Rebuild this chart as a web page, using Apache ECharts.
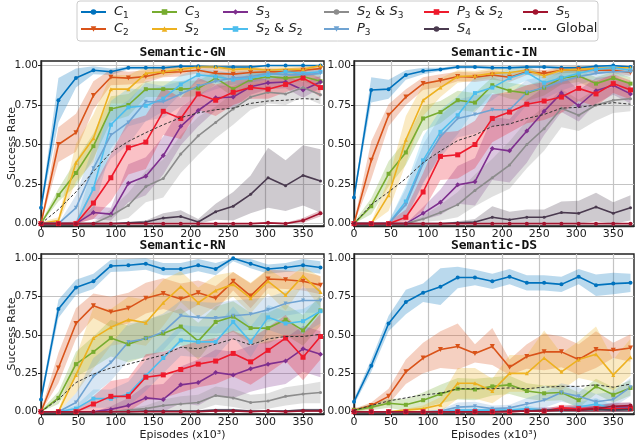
<!DOCTYPE html>
<html>
<head>
<meta charset="utf-8">
<script src="https://cdn.jsdelivr.net/npm/echarts@6/dist/echarts.min.js"></script>
<style>
  html, body { margin: 0; padding: 0; background: #fff; }
  #chart { width: 635px; height: 442px; }
</style>
</head>
<body>
<div id="chart"></div>
<script>
// episodes (x10^3) at which every run was evaluated
const episodes = [0, 23.3, 46.7, 70, 93.3, 116.7, 140, 163.3, 186.7, 210, 233.3, 256.7, 280, 303.3, 326.7, 350, 373.3]
const xTicks = [0, 50, 100, 150, 200, 250, 300, 350]
const yTicks = [0, 0.25, 0.5, 0.75, 1]

const names = ['C1', 'C2', 'C3', 'S2', 'S3', 'S2 & S2', 'S2 & S3', 'P3', 'P3 & S2', 'S4', 'S5']
const colors = ['#0072BD', '#D95319', '#77AC30', '#EDB120', '#7E2F8E', '#4DBEEE', '#8C8C8C', '#6FA3D2', '#EE1A2C', '#4A3A4F', '#A2142F']
const symbols = ['circle', 'triangle', 'rect', 'triangle', 'diamond', 'rect', 'circle', 'triangle', 'rect', 'circle', 'circle']
const symbolRotates = [0, 180, 0, 0, 0, 0, 0, 180, 0, 0, 0]
const symbolSizes = [4, 5, 4, 4, 5, 4, 3, 4, 5, 3, 4]

// ---- Semantic-GN
const GN_C1 = [0.10, 0.78, 0.92, 0.97, 0.96, 0.985, 0.985, 0.985, 0.995, 0.995, 0.99, 0.99, 0.99, 1.0, 1.0, 1.0, 1.0]
const GN_C2 = [0, 0.50, 0.575, 0.81, 0.925, 0.92, 0.93, 0.955, 0.96, 0.97, 0.95, 0.945, 0.955, 0.96, 0.96, 0.97, 0.98]
const GN_C3 = [0, 0.18, 0.32, 0.49, 0.725, 0.75, 0.85, 0.85, 0.85, 0.855, 0.92, 0.85, 0.91, 0.93, 0.92, 0.93, 0.90]
const GN_S2 = [0, 0.02, 0.385, 0.54, 0.85, 0.85, 0.95, 0.96, 0.975, 0.99, 0.99, 0.975, 0.98, 0.97, 0.975, 0.975, 1.0]
const GN_S3 = [0, 0, 0, 0.07, 0.06, 0.255, 0.30, 0.43, 0.615, 0.715, 0.795, 0.80, 0.865, 0.89, 0.895, 0.845, 0.895]
const GN_S2S2 = [0, 0, 0, 0.22, 0.625, 0.735, 0.745, 0.79, 0.88, 0.94, 0.93, 0.91, 0.92, 0.94, 0.96, 0.95, 0.96]
const GN_S2S3 = [0, 0, 0, 0, 0.05, 0.115, 0.235, 0.285, 0.44, 0.555, 0.64, 0.725, 0.80, 0.83, 0.82, 0.86, 0.815]
const GN_P3 = [0, 0, 0.1, 0.35, 0.56, 0.64, 0.77, 0.77, 0.82, 0.87, 0.90, 0.92, 0.93, 0.95, 0.94, 0.94, 0.95]
const GN_P3S2 = [0, 0, 0, 0.13, 0.29, 0.48, 0.515, 0.71, 0.665, 0.82, 0.78, 0.83, 0.86, 0.85, 0.88, 0.92, 0.86]
const GN_S4 = [0, 0, 0, 0, 0, 0.005, 0.01, 0.035, 0.045, 0.01, 0.075, 0.11, 0.185, 0.29, 0.24, 0.305, 0.27]
const GN_S5 = [0, 0, 0, 0, 0, 0, 0, 0, 0, 0, 0, 0, 0, 0.005, 0, 0.02, 0.065]
const GN_GLOBAL = [0, 0.09, 0.2, 0.33, 0.45, 0.52, 0.575, 0.625, 0.67, 0.70, 0.72, 0.73, 0.76, 0.775, 0.78, 0.79, 0.785]

const GN_C1_SD = [0.02, 0.14, 0.06, 0.025, 0.02, 0.01, 0.01, 0.01, 0.01, 0.01, 0.01, 0.01, 0.01, 0.005, 0.005, 0.005, 0.005]
const GN_C2_SD = [0.01, 0.11, 0.12, 0.09, 0.05, 0.04, 0.04, 0.03, 0.03, 0.02, 0.03, 0.03, 0.03, 0.02, 0.02, 0.02, 0.02]
const GN_C3_SD = [0.01, 0.04, 0.08, 0.08, 0.08, 0.07, 0.05, 0.05, 0.05, 0.05, 0.04, 0.05, 0.04, 0.03, 0.03, 0.03, 0.04]
const GN_S2_SD = [0.01, 0.02, 0.12, 0.15, 0.09, 0.09, 0.04, 0.03, 0.02, 0.01, 0.01, 0.02, 0.02, 0.02, 0.02, 0.02, 0.01]
const GN_S3_SD = [0, 0, 0, 0.04, 0.04, 0.12, 0.12, 0.12, 0.12, 0.1, 0.08, 0.07, 0.05, 0.04, 0.04, 0.05, 0.04]
const GN_S2S2_SD = [0, 0, 0.01, 0.15, 0.15, 0.12, 0.1, 0.08, 0.06, 0.04, 0.04, 0.04, 0.03, 0.03, 0.02, 0.02, 0.02]
const GN_S2S3_SD = [0, 0, 0, 0.01, 0.04, 0.08, 0.1, 0.12, 0.12, 0.12, 0.1, 0.1, 0.08, 0.07, 0.07, 0.06, 0.06]
const GN_P3_SD = [0, 0, 0.08, 0.14, 0.15, 0.14, 0.12, 0.1, 0.08, 0.06, 0.05, 0.04, 0.04, 0.03, 0.03, 0.03, 0.03]
const GN_P3S2_SD = [0, 0, 0.02, 0.1, 0.15, 0.17, 0.17, 0.15, 0.13, 0.1, 0.1, 0.08, 0.07, 0.06, 0.05, 0.05, 0.06]
const GN_S4_SD = [0, 0, 0, 0, 0, 0.005, 0.01, 0.03, 0.04, 0.02, 0.05, 0.09, 0.12, 0.19, 0.16, 0.19, 0.2]
const GN_S5_SD = [0, 0, 0, 0, 0, 0, 0, 0, 0, 0, 0, 0, 0, 0.005, 0.005, 0.015, 0.02]

// ---- Semantic-IN
const IN_C1 = [0.165, 0.845, 0.85, 0.94, 0.965, 0.975, 0.99, 0.99, 0.985, 0.985, 0.99, 0.99, 0.985, 0.985, 0.995, 1.0, 0.99]
const IN_C2 = [0, 0.40, 0.685, 0.80, 0.885, 0.905, 0.93, 0.925, 0.94, 0.925, 0.96, 0.95, 0.97, 0.975, 0.97, 0.97, 0.955]
const IN_C3 = [0, 0.11, 0.315, 0.45, 0.665, 0.705, 0.78, 0.765, 0.875, 0.84, 0.825, 0.86, 0.92, 0.935, 0.885, 0.92, 0.885]
const IN_S2 = [0, 0, 0.18, 0.53, 0.78, 0.86, 0.93, 0.935, 0.95, 0.955, 0.97, 0.935, 0.97, 0.975, 0.98, 0.985, 0.985]
const IN_S3 = [0, 0, 0, 0, 0.065, 0.135, 0.245, 0.265, 0.475, 0.46, 0.585, 0.71, 0.825, 0.745, 0.84, 0.875, 0.82]
const IN_S2S2 = [0, 0, 0, 0.14, 0.40, 0.58, 0.685, 0.825, 0.86, 0.92, 0.955, 0.89, 0.92, 0.95, 0.975, 0.985, 0.97]
const IN_S2S3 = [0, 0, 0, 0, 0.03, 0.07, 0.12, 0.21, 0.29, 0.37, 0.50, 0.60, 0.73, 0.685, 0.75, 0.78, 0.79]
const IN_P3 = [0, 0, 0, 0.12, 0.38, 0.55, 0.665, 0.69, 0.72, 0.72, 0.83, 0.86, 0.90, 0.93, 0.95, 0.96, 0.96]
const IN_P3S2 = [0, 0, 0, 0.04, 0.2, 0.425, 0.435, 0.50, 0.665, 0.705, 0.755, 0.775, 0.80, 0.855, 0.82, 0.885, 0.845]
const IN_S4 = [0, 0, 0, 0, 0, 0, 0.005, 0.01, 0.04, 0.025, 0.04, 0.04, 0.07, 0.065, 0.105, 0.065, 0.1]
const IN_S5 = [0, 0, 0, 0, 0, 0, 0, 0, 0, 0, 0, 0, 0, 0, 0, 0, 0]
const IN_GLOBAL = [0, 0.12, 0.2, 0.285, 0.385, 0.46, 0.525, 0.56, 0.615, 0.63, 0.665, 0.69, 0.73, 0.735, 0.75, 0.765, 0.755]

const IN_C1_SD = [0.02, 0.08, 0.06, 0.03, 0.02, 0.01, 0.01, 0.01, 0.01, 0.01, 0.01, 0.01, 0.01, 0.01, 0.01, 0.005, 0.01]
const IN_C2_SD = [0.01, 0.12, 0.07, 0.05, 0.04, 0.04, 0.03, 0.03, 0.03, 0.03, 0.02, 0.02, 0.02, 0.02, 0.02, 0.02, 0.02]
const IN_C3_SD = [0.01, 0.05, 0.08, 0.08, 0.08, 0.07, 0.06, 0.06, 0.05, 0.05, 0.05, 0.05, 0.04, 0.04, 0.04, 0.04, 0.04]
const IN_S2_SD = [0, 0.01, 0.1, 0.15, 0.1, 0.06, 0.04, 0.03, 0.03, 0.02, 0.02, 0.02, 0.02, 0.02, 0.01, 0.01, 0.01]
const IN_S3_SD = [0, 0, 0, 0, 0.04, 0.08, 0.12, 0.15, 0.2, 0.2, 0.2, 0.15, 0.12, 0.1, 0.08, 0.06, 0.06]
const IN_S2S2_SD = [0, 0, 0.01, 0.1, 0.15, 0.14, 0.12, 0.1, 0.08, 0.06, 0.05, 0.05, 0.04, 0.03, 0.03, 0.02, 0.02]
const IN_S2S3_SD = [0, 0, 0, 0, 0.02, 0.05, 0.08, 0.1, 0.12, 0.15, 0.15, 0.14, 0.12, 0.1, 0.1, 0.08, 0.08]
const IN_P3_SD = [0, 0, 0.01, 0.1, 0.12, 0.13, 0.12, 0.12, 0.1, 0.1, 0.08, 0.07, 0.06, 0.05, 0.04, 0.03, 0.03]
const IN_P3S2_SD = [0, 0, 0.01, 0.05, 0.12, 0.15, 0.15, 0.15, 0.15, 0.13, 0.12, 0.12, 0.1, 0.08, 0.08, 0.06, 0.06]
const IN_S4_SD = [0, 0, 0, 0, 0, 0, 0.01, 0.02, 0.07, 0.05, 0.05, 0.05, 0.07, 0.08, 0.09, 0.07, 0.08]
const IN_S5_SD = [0, 0, 0, 0, 0, 0, 0, 0, 0, 0, 0, 0, 0, 0, 0, 0, 0]

// ---- Semantic-RN
const RN_C1 = [0.08, 0.67, 0.81, 0.85, 0.95, 0.955, 0.965, 0.93, 0.93, 0.955, 0.93, 1.0, 0.965, 0.93, 0.94, 0.955, 0.94]
const RN_C2 = [0, 0.285, 0.575, 0.69, 0.65, 0.675, 0.74, 0.77, 0.735, 0.775, 0.74, 0.85, 0.755, 0.865, 0.86, 0.85, 0.825]
const RN_C3 = [0, 0.09, 0.31, 0.39, 0.48, 0.44, 0.48, 0.51, 0.555, 0.46, 0.585, 0.62, 0.545, 0.545, 0.60, 0.53, 0.66]
const RN_S2 = [0, 0, 0.24, 0.48, 0.55, 0.60, 0.58, 0.71, 0.815, 0.71, 0.79, 0.83, 0.74, 0.85, 0.76, 0.885, 0.78]
const RN_S3 = [0, 0, 0, 0, 0.015, 0.04, 0.09, 0.08, 0.175, 0.19, 0.255, 0.24, 0.28, 0.31, 0.33, 0.41, 0.375]
const RN_S2S2 = [0, 0, 0.02, 0.085, 0.085, 0.115, 0.235, 0.35, 0.465, 0.455, 0.455, 0.585, 0.455, 0.615, 0.575, 0.59, 0.655]
const RN_S2S3 = [0, 0, 0, 0, 0, 0.01, 0.02, 0.04, 0.05, 0.06, 0.105, 0.09, 0.06, 0.07, 0.1, 0.115, 0.125]
const RN_P3 = [0, 0, 0.06, 0.23, 0.32, 0.455, 0.475, 0.52, 0.625, 0.615, 0.61, 0.625, 0.635, 0.665, 0.705, 0.725, 0.725]
const RN_P3S2 = [0, 0, 0, 0.05, 0.1, 0.10, 0.225, 0.24, 0.275, 0.31, 0.33, 0.38, 0.325, 0.40, 0.48, 0.355, 0.49]
const RN_S4 = [0, 0, 0, 0, 0, 0, 0.005, 0.005, 0.005, 0.005, 0.01, 0.01, 0.005, 0.005, 0.005, 0.01, 0.01]
const RN_S5 = [0, 0, 0, 0, 0, 0, 0, 0, 0, 0, 0.005, 0.005, 0, 0.005, 0, 0.005, 0.005]
const RN_GLOBAL = [0, 0.08, 0.19, 0.245, 0.285, 0.31, 0.34, 0.37, 0.42, 0.41, 0.44, 0.475, 0.435, 0.475, 0.49, 0.49, 0.505]

const RN_C1_SD = [0.03, 0.06, 0.05, 0.05, 0.04, 0.04, 0.04, 0.04, 0.04, 0.04, 0.04, 0.02, 0.03, 0.03, 0.03, 0.04, 0.04]
const RN_C2_SD = [0.01, 0.1, 0.1, 0.08, 0.1, 0.1, 0.1, 0.1, 0.1, 0.08, 0.08, 0.06, 0.08, 0.06, 0.06, 0.06, 0.06]
const RN_C3_SD = [0.01, 0.04, 0.08, 0.1, 0.12, 0.12, 0.12, 0.12, 0.12, 0.12, 0.1, 0.1, 0.1, 0.1, 0.1, 0.1, 0.1]
const RN_S2_SD = [0, 0.01, 0.12, 0.2, 0.12, 0.15, 0.15, 0.15, 0.1, 0.1, 0.1, 0.08, 0.1, 0.08, 0.1, 0.06, 0.1]
const RN_S3_SD = [0, 0, 0, 0, 0.02, 0.05, 0.08, 0.1, 0.12, 0.15, 0.15, 0.15, 0.15, 0.15, 0.15, 0.15, 0.15]
const RN_S2S2_SD = [0, 0, 0.02, 0.06, 0.06, 0.08, 0.1, 0.1, 0.1, 0.1, 0.1, 0.1, 0.1, 0.08, 0.08, 0.08, 0.08]
const RN_S2S3_SD = [0, 0, 0, 0, 0, 0.01, 0.02, 0.04, 0.05, 0.05, 0.06, 0.06, 0.05, 0.05, 0.06, 0.06, 0.07]
const RN_P3_SD = [0, 0, 0.06, 0.12, 0.12, 0.12, 0.12, 0.12, 0.1, 0.1, 0.1, 0.1, 0.1, 0.08, 0.08, 0.08, 0.08]
const RN_P3S2_SD = [0, 0, 0.01, 0.05, 0.1, 0.12, 0.15, 0.15, 0.15, 0.15, 0.15, 0.15, 0.15, 0.15, 0.15, 0.15, 0.15]
const RN_S4_SD = [0, 0, 0, 0, 0, 0, 0.005, 0.005, 0.005, 0.005, 0.01, 0.01, 0.005, 0.005, 0.005, 0.01, 0.01]
const RN_S5_SD = [0, 0, 0, 0, 0, 0, 0, 0, 0, 0, 0.005, 0.005, 0, 0.005, 0, 0.005, 0.005]

// ---- Semantic-DS
const DS_C1 = [0.065, 0.30, 0.575, 0.715, 0.775, 0.815, 0.875, 0.875, 0.85, 0.88, 0.84, 0.84, 0.83, 0.88, 0.825, 0.835, 0.84]
const DS_C2 = [0.01, 0.04, 0.10, 0.26, 0.35, 0.405, 0.425, 0.38, 0.425, 0.29, 0.36, 0.39, 0.39, 0.34, 0.405, 0.40, 0.415]
const DS_C3 = [0.01, 0.03, 0.055, 0.045, 0.075, 0.115, 0.15, 0.145, 0.165, 0.175, 0.135, 0.12, 0.125, 0.075, 0.165, 0.11, 0.155]
const DS_S2 = [0, 0, 0, 0.01, 0.02, 0.045, 0.185, 0.185, 0.135, 0.25, 0.25, 0.35, 0.26, 0.34, 0.375, 0.24, 0.355]
const DS_S3 = [0, 0, 0, 0, 0, 0, 0, 0.005, 0.005, 0.005, 0.01, 0.01, 0.01, 0.02, 0.02, 0.03, 0.03]
const DS_S2S2 = [0, 0, 0, 0, 0, 0, 0.01, 0.01, 0.01, 0.01, 0.02, 0.01, 0.01, 0.03, 0.05, 0.02, 0.02]
const DS_S2S3 = [0, 0, 0, 0, 0, 0, 0, 0, 0, 0.005, 0.005, 0.01, 0.005, 0.01, 0.01, 0.01, 0.01]
const DS_P3 = [0, 0, 0, 0, 0, 0.005, 0.03, 0.035, 0.02, 0.025, 0.05, 0.075, 0.125, 0.1, 0.065, 0.08, 0.16]
const DS_P3S2 = [0, 0, 0, 0, 0, 0, 0, 0, 0, 0, 0.005, 0.005, 0.025, 0.02, 0.02, 0.02, 0.02]
const DS_S4 = [0, 0, 0, 0, 0, 0, 0, 0, 0, 0.005, 0.005, 0.01, 0.01, 0.01, 0.015, 0.01, 0.015]
const DS_S5 = [0, 0, 0, 0, 0, 0, 0, 0, 0, 0, 0.005, 0.005, 0.01, 0.01, 0.02, 0.035, 0.04]
const DS_GLOBAL = [0.01, 0.04, 0.07, 0.09, 0.11, 0.12, 0.15, 0.15, 0.15, 0.155, 0.15, 0.16, 0.165, 0.165, 0.175, 0.16, 0.18]

const DS_C1_SD = [0.02, 0.04, 0.05, 0.08, 0.06, 0.12, 0.07, 0.05, 0.05, 0.05, 0.05, 0.05, 0.05, 0.05, 0.07, 0.07, 0.06]
const DS_C2_SD = [0.01, 0.02, 0.05, 0.08, 0.1, 0.12, 0.15, 0.06, 0.12, 0.05, 0.08, 0.12, 0.1, 0.1, 0.12, 0.05, 0.09]
const DS_C3_SD = [0.01, 0.02, 0.03, 0.04, 0.05, 0.06, 0.07, 0.07, 0.06, 0.06, 0.05, 0.05, 0.05, 0.05, 0.05, 0.05, 0.05]
const DS_S2_SD = [0, 0, 0.005, 0.01, 0.02, 0.05, 0.1, 0.1, 0.08, 0.12, 0.12, 0.18, 0.12, 0.12, 0.18, 0.1, 0.12]
const DS_S3_SD = [0, 0, 0, 0, 0, 0, 0.005, 0.01, 0.01, 0.01, 0.01, 0.02, 0.02, 0.02, 0.02, 0.03, 0.03]
const DS_S2S2_SD = [0, 0, 0, 0, 0, 0, 0.01, 0.01, 0.01, 0.01, 0.02, 0.01, 0.02, 0.03, 0.04, 0.02, 0.02]
const DS_S2S3_SD = [0, 0, 0, 0, 0, 0, 0, 0, 0, 0.005, 0.005, 0.01, 0.005, 0.01, 0.01, 0.01, 0.01]
const DS_P3_SD = [0, 0, 0, 0, 0, 0.01, 0.03, 0.03, 0.02, 0.02, 0.04, 0.05, 0.06, 0.06, 0.05, 0.05, 0.06]
const DS_P3S2_SD = [0, 0, 0, 0, 0, 0, 0, 0, 0, 0, 0.01, 0.01, 0.02, 0.02, 0.02, 0.02, 0.02]
const DS_S4_SD = [0, 0, 0, 0, 0, 0, 0, 0, 0, 0.005, 0.005, 0.01, 0.01, 0.01, 0.015, 0.01, 0.015]
const DS_S5_SD = [0, 0, 0, 0, 0, 0, 0, 0, 0, 0, 0.005, 0.005, 0.01, 0.01, 0.02, 0.02, 0.02]

const panels = [
  { title: 'Semantic-GN', global: GN_GLOBAL,
    means: [GN_C1, GN_C2, GN_C3, GN_S2, GN_S3, GN_S2S2, GN_S2S3, GN_P3, GN_P3S2, GN_S4, GN_S5],
    sds: [GN_C1_SD, GN_C2_SD, GN_C3_SD, GN_S2_SD, GN_S3_SD, GN_S2S2_SD, GN_S2S3_SD, GN_P3_SD, GN_P3S2_SD, GN_S4_SD, GN_S5_SD] },
  { title: 'Semantic-IN', global: IN_GLOBAL,
    means: [IN_C1, IN_C2, IN_C3, IN_S2, IN_S3, IN_S2S2, IN_S2S3, IN_P3, IN_P3S2, IN_S4, IN_S5],
    sds: [IN_C1_SD, IN_C2_SD, IN_C3_SD, IN_S2_SD, IN_S3_SD, IN_S2S2_SD, IN_S2S3_SD, IN_P3_SD, IN_P3S2_SD, IN_S4_SD, IN_S5_SD] },
  { title: 'Semantic-RN', global: RN_GLOBAL,
    means: [RN_C1, RN_C2, RN_C3, RN_S2, RN_S3, RN_S2S2, RN_S2S3, RN_P3, RN_P3S2, RN_S4, RN_S5],
    sds: [RN_C1_SD, RN_C2_SD, RN_C3_SD, RN_S2_SD, RN_S3_SD, RN_S2S2_SD, RN_S2S3_SD, RN_P3_SD, RN_P3S2_SD, RN_S4_SD, RN_S5_SD] },
  { title: 'Semantic-DS', global: DS_GLOBAL,
    means: [DS_C1, DS_C2, DS_C3, DS_S2, DS_S3, DS_S2S2, DS_S2S3, DS_P3, DS_P3S2, DS_S4, DS_S5],
    sds: [DS_C1_SD, DS_C2_SD, DS_C3_SD, DS_S2_SD, DS_S3_SD, DS_S2S2_SD, DS_S2S3_SD, DS_P3_SD, DS_P3S2_SD, DS_S4_SD, DS_S5_SD] }
]

// plot boxes, in pixels
const boxes = [
  { left: 41, top: 61, width: 283, height: 165 },
  { left: 354, top: 61, width: 280, height: 165 },
  { left: 41, top: 254, width: 283, height: 164 },
  { left: 354, top: 254, width: 280, height: 164 }
]

const ink = '#222'
const font = 'DejaVu Sans'

const myChart = echarts.init(document.getElementById('chart'), null, { renderer: 'canvas' })

const grid = [], xAxis = [], yAxis = [], title = [], series = []

panels.forEach((p, pi) => {
  const b = boxes[pi]
  grid.push({ ...b, show: true, borderColor: ink, borderWidth: 1.4, backgroundColor: '#fff' })
  title.push({
    text: p.title, left: b.left + b.width / 2, top: b.top - 15, textAlign: 'center', padding: 0,
    textStyle: { fontFamily: 'DejaVu Sans Mono', fontWeight: 'bold', fontSize: 13, color: '#111' }
  })
  xAxis.push({
    gridIndex: pi, type: 'value', min: 0, max: 378,
    name: pi >= 2 ? 'Episodes (x10³)' : '', nameLocation: 'middle', nameGap: 16, nameMoveOverlap: false,
    nameTextStyle: { fontFamily: font, fontSize: 11, color: ink },
    axisLine: { onZero: false, lineStyle: { color: ink, width: 1.4 } },
    axisTick: { customValues: xTicks, length: 3, lineStyle: { color: ink } },
    axisLabel: { customValues: xTicks, margin: 3, fontFamily: font, fontSize: 11, color: ink },
    splitLine: { show: true, lineStyle: { color: '#c4c4c4', width: 1.2 } }
  })
  yAxis.push({
    gridIndex: pi, type: 'value', min: -0.015, max: 1.028,
    name: pi % 2 === 0 ? 'Success Rate' : '', nameLocation: 'middle', nameGap: 23, nameMoveOverlap: false,
    nameTextStyle: { fontFamily: font, fontSize: 11, color: ink },
    axisLine: { onZero: false, lineStyle: { color: ink, width: 1.4 } },
    axisTick: { customValues: yTicks, length: 3, lineStyle: { color: ink } },
    axisLabel: { customValues: yTicks, margin: 3, fontFamily: font, fontSize: 10.5, color: ink,
      formatter: v => v.toFixed(2) },
    splitLine: { show: true, lineStyle: { color: '#c4c4c4', width: 1.2 } }
  })

  p.means.forEach((mean, k) => {
    const sd = p.sds[k]
    const lower = mean.map((m, i) => Math.max(0, m - sd[i]))
    const upper = mean.map((m, i) => Math.min(1, m + sd[i]))
    // mean ± std band, one polygon through the axis scales
    series.push({
      type: 'custom', name: names[k] + ' band', xAxisIndex: pi, yAxisIndex: pi, silent: true, z: 1,
      data: episodes.map((x, i) => [x, lower[i], upper[i]]),
      encode: { x: 0, y: [1, 2] },
      renderItem: (params, api) => {
        if (params.dataIndex !== 0) return null
        const top = episodes.map((x, i) => api.coord([x, upper[i]]))
        const bottom = episodes.map((x, i) => api.coord([x, lower[i]])).reverse()
        return {
          type: 'polygon', shape: { points: top.concat(bottom) },
          style: { fill: colors[k], opacity: 0.27 }
        }
      }
    })
    series.push({
      type: 'line', name: names[k], xAxisIndex: pi, yAxisIndex: pi,
      data: episodes.map((x, i) => [x, mean[i]]),
      color: colors[k], lineStyle: { width: 1.6 },
      symbol: symbols[k], symbolSize: symbolSizes[k], symbolRotate: symbolRotates[k],
      showAllSymbol: true, z: 3
    })
  })
  series.push({
    type: 'line', name: 'Global', xAxisIndex: pi, yAxisIndex: pi,
    data: episodes.map((x, i) => [x, p.global[i]]),
    color: '#333', lineStyle: { width: 1, type: [3, 2] }, symbol: 'none', z: 4
  })
})

// legend: 6 columns x 2 rows
const legendRows = [
  ['C1', 'C3', 'S3', 'S2 & S3', 'P3 & S2', 'S5'],
  ['C2', 'S2', 'S2 & S2', 'P3', 'S4', 'Global']
]
const legendCols = [80, 151, 222, 323, 423, 522]
const legendTops = [4, 21]
const legend = []
legendRows.forEach((row, r) => row.forEach((name, c) => {
  legend.push({
    data: [name], left: legendCols[c], top: legendTops[r], padding: 0,
    itemWidth: 25, itemHeight: 7, selectedMode: false,
    itemStyle: name === 'Global' ? { opacity: 0 } : {},
    formatter: n => n.replace(/([CSP])(\d)/g, '{i|$1}{s|$2}'),
    textStyle: {
      fontFamily: font, fontSize: 13, color: ink, lineHeight: 16, padding: [0, 0, 0, 3],
      rich: {
        i: { fontFamily: font, fontStyle: 'italic', fontSize: 13, lineHeight: 16, color: ink },
        s: { fontFamily: font, fontSize: 9, lineHeight: 9, verticalAlign: 'bottom', color: ink }
      }
    }
  })
}))

const option = {
  animation: false,
  backgroundColor: '#fff',
  title, grid, xAxis, yAxis, legend, series,
  graphic: [{
    type: 'rect', shape: { x: 77, y: 1, width: 521, height: 40, r: 3 },
    style: { fill: 'rgba(255,255,255,0.8)', stroke: '#cccccc', lineWidth: 1 }, z: -1
  }]
}

myChart.setOption(option)
</script>
</body>
</html>
